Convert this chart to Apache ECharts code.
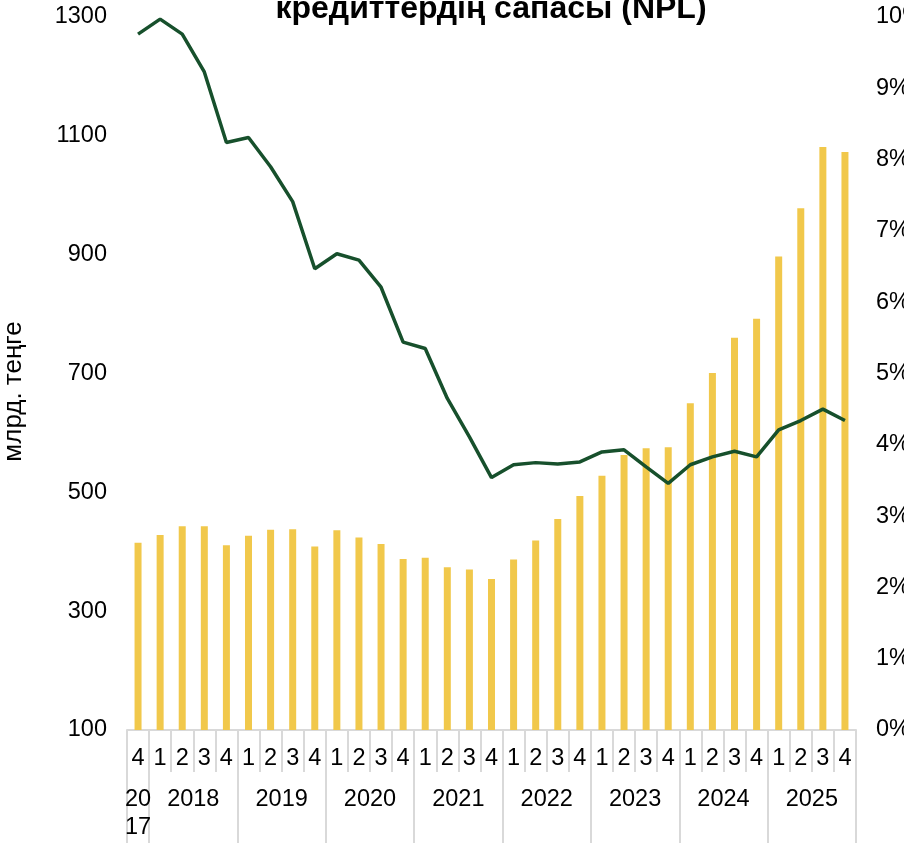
<!DOCTYPE html>
<html>
<head>
<meta charset="utf-8">
<script src="https://cdn.jsdelivr.net/npm/echarts@6/dist/echarts.min.js"></script>
<style>
  html, body { margin: 0; padding: 0; background: #fff; }
  #chart { width: 904px; height: 843px; }
</style>
</head>
<body>
<div id="chart"></div>
<script>
// кварталдар (2017 Q4 ... 2025 Q4)
var quarters = ['4',
  '1','2','3','4', '1','2','3','4', '1','2','3','4', '1','2','3','4',
  '1','2','3','4', '1','2','3','4', '1','2','3','4', '1','2','3','4'];
var years = ['20\n17','2018','2019','2020','2021','2022','2023','2024','2025'];
var quartersInYear = [1,4,4,4,4,4,4,4,4];

// кредиттер, млрд. теңге
var loans = [415,
  428, 443, 443, 411,
  427, 437, 438, 409,
  436, 424, 413, 388,
  390, 374, 370, 354,
  387, 419, 455, 494,
  528, 563, 574, 576,
  650, 701, 760, 792,
  897, 978, 1081, 1073];

// NPL, %
var npl = [9.76,
  9.97, 9.76, 9.23, 8.24,
  8.31, 7.90, 7.41, 6.47,
  6.68, 6.59, 6.21, 5.44,
  5.35, 4.65, 4.11, 3.54,
  3.72, 3.75, 3.73, 3.76,
  3.90, 3.93, 3.69, 3.46,
  3.72, 3.83, 3.91, 3.83,
  4.21, 4.34, 4.50, 4.34];

var leftTicks = { min: 100, max: 1300, step: 200 };
var rightTicks = { min: 0, max: 10, step: 1 };

// жылдар осі: жарты квартал қадамы, шекаралары мен ортасы
var yearCats = [];
var yearBounds = {};
var pos = 0;
years.forEach(function(y, i){
  var n = quartersInYear[i];
  yearBounds[pos] = true;
  for (var k = 0; k < 2 * n; k++) {
    yearCats.push(k === n ? y : '');
  }
  pos += 2 * n;
});
yearBounds[pos] = true;
yearCats.push('');

var font = "'Liberation Sans', Arial, sans-serif";
var gridLine = '#d9d9d9';
var fs = 23.5;

var myChart = echarts.init(document.getElementById('chart'));
var option = {
  animation: false,
  title: {
    text: 'кредиттердің сапасы (NPL)',
    left: 491,
    top: -7,
    padding: 0,
    textAlign: 'center',
    textStyle: { fontFamily: font, fontSize: 32, fontWeight: 'bold', color: '#000' }
  },
  grid: { left: 127, right: 48, top: 17, bottom: 113, outerBoundsMode: 'none', containLabel: false },
  xAxis: [{
    type: 'category',
    data: quarters,
    position: 'bottom',
    boundaryGap: true,
    axisLine: { show: true, lineStyle: { color: gridLine, width: 2 } },
    axisTick: { show: true, interval: 0, length: 42, lineStyle: { color: gridLine, width: 2 } },
    axisLabel: { interval: 0, margin: 17, fontFamily: font, fontSize: fs, color: '#000', lineHeight: 23 },
    splitLine: { show: false }
  }, {
    type: 'category',
    data: yearCats,
    position: 'bottom',
    boundaryGap: false,
    axisLine: { show: false },
    axisTick: {
      show: true, length: 120,
      interval: function(idx){ return !!yearBounds[idx]; },
      lineStyle: { color: gridLine, width: 2 }
    },
    axisLabel: {
      margin: 56,
      interval: function(idx, val){ return val !== ''; },
      fontFamily: font, fontSize: fs, color: '#000', lineHeight: 28
    },
    splitLine: { show: false }
  }],
  yAxis: [{
    type: 'value',
    min: leftTicks.min,
    max: leftTicks.max,
    interval: leftTicks.step,
    name: 'млрд. теңге',
    nameLocation: 'middle',
    nameRotate: 90,
    nameGap: 100,
    nameTextStyle: { fontFamily: font, fontSize: 26, color: '#000', padding: [0, 36, 0, 0] },
    axisLine: { show: false },
    axisTick: { show: false },
    splitLine: { show: false },
    axisLabel: { margin: 20, formatter: function(v){ return String(v); }, fontFamily: font, fontSize: fs, color: '#000' }
  }, {
    type: 'value',
    min: rightTicks.min,
    max: rightTicks.max,
    interval: rightTicks.step,
    position: 'right',
    axisLine: { show: false },
    axisTick: { show: false },
    splitLine: { show: false },
    axisLabel: { margin: 20, formatter: '{value}%', fontFamily: font, fontSize: fs, color: '#000' }
  }],
  series: [{
    name: 'Кредиттер',
    type: 'bar',
    data: loans,
    barWidth: 7,
    itemStyle: { color: '#f1c84b' },
    z: 2
  }, {
    name: 'NPL',
    type: 'line',
    yAxisIndex: 1,
    data: npl,
    symbol: 'none',
    lineStyle: { color: '#17502c', width: 3.5 },
    z: 3
  }]
};
myChart.setOption(option);
</script>
</body>
</html>
